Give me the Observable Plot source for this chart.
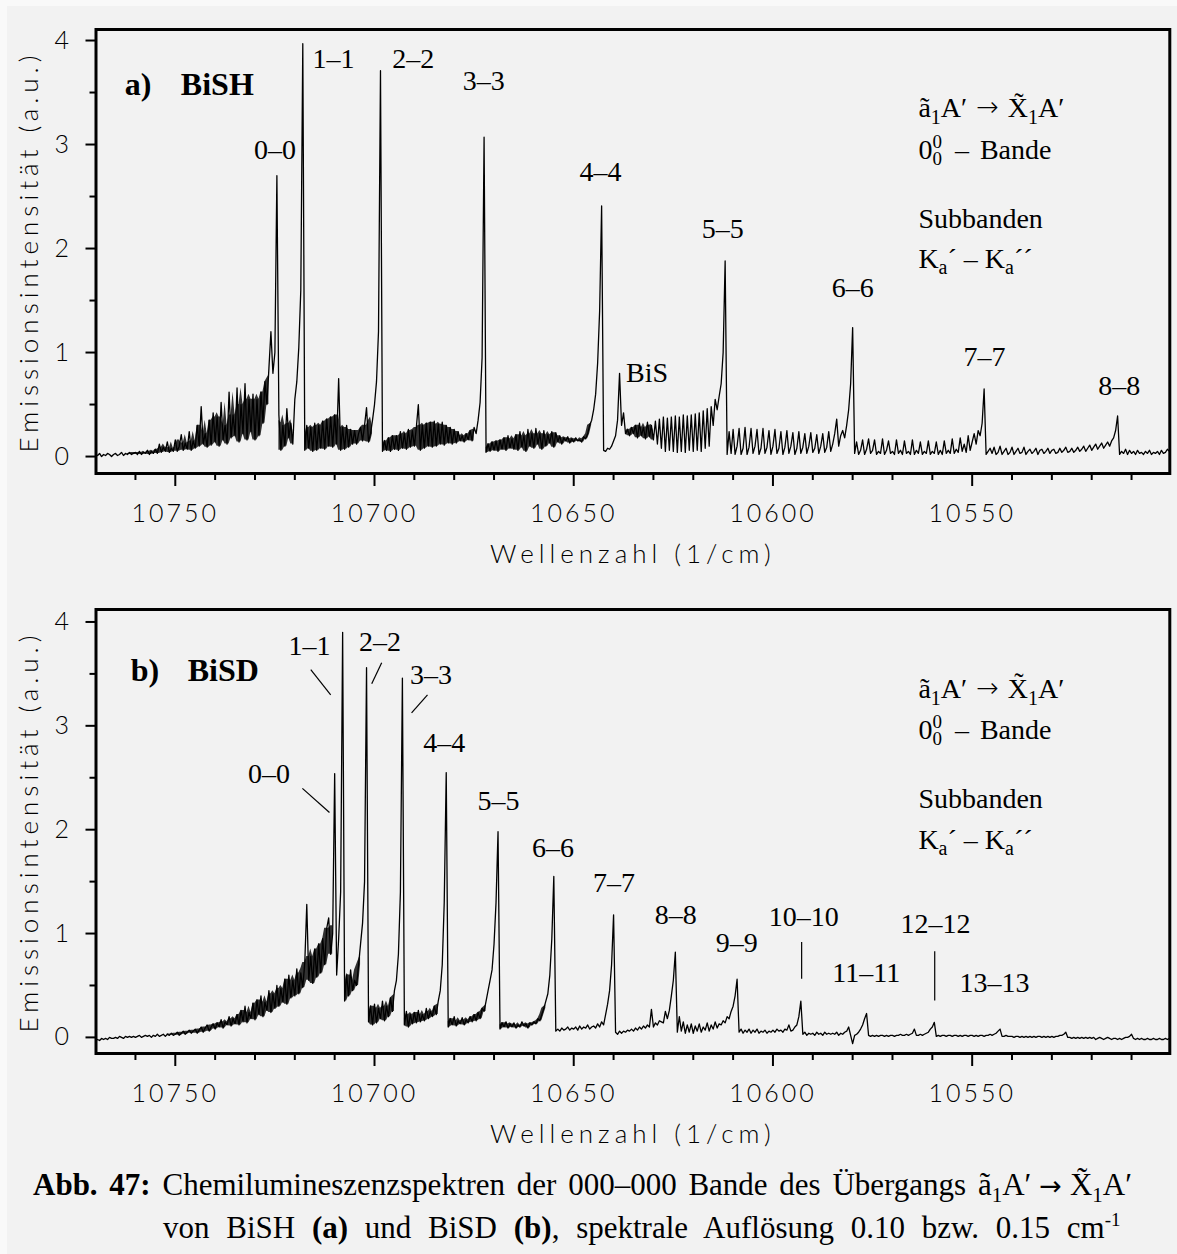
<!DOCTYPE html>
<html><head><meta charset="utf-8">
<script src="https://cdn.jsdelivr.net/npm/d3@7"></script>
<script src="https://cdn.jsdelivr.net/npm/@observablehq/plot@0.6"></script>
<style>
html,body{margin:0;padding:0;background:#f9f9f9;}
#page{position:relative;width:1177px;height:1254px;background:#f9f9f9;overflow:hidden;}
#inner{position:absolute;left:7px;top:6px;right:0;bottom:0;background:#f2f2f2;}
#page svg{position:absolute;left:0;overflow:visible;}
g[aria-label="x-axis tick label"] text{letter-spacing:3px;}
</style></head>
<body><div id="page"><div id="inner"></div></div>
<script>
// ---------- data ----------
const wnStart = 10770, wnStep = 0.5;   // wavenumber grid (1/cm), descending
// BiSH emission intensity (a.u.), one value per grid point
const bishIntensity = [
0.02,0.01,0.03,0.00,0.02,0.01,0.03,0.02,0.00,0.02,
0.03,0.01,0.02,0.04,0.01,0.03,0.02,0.04,0.02,0.03,
0.04,0.02,0.05,0.02,0.04,0.03,0.06,0.02,0.05,0.03,
0.07,0.03,0.12,0.04,0.09,0.05,0.14,0.04,0.08,0.05,
0.16,0.05,0.10,0.21,0.06,0.13,0.07,0.24,0.06,0.15,
0.08,0.30,0.10,0.48,0.12,0.22,0.09,0.35,0.11,0.42,
0.14,0.38,0.10,0.52,0.16,0.30,0.12,0.62,0.18,0.40,
0.20,0.66,0.14,0.50,0.22,0.70,0.16,0.55,0.24,0.60,
0.16,0.55,0.20,0.62,0.32,0.72,0.50,0.85,1.20,0.80,
1.00,2.70,0.40,0.06,0.30,0.10,0.46,0.18,0.32,0.12,
0.55,0.72,1.05,1.60,3.97,0.06,0.30,0.08,0.28,0.05,
0.32,0.06,0.30,0.08,0.34,0.07,0.36,0.10,0.38,0.09,
0.40,0.12,0.75,0.06,0.28,0.07,0.30,0.09,0.26,0.12,
0.25,0.12,0.22,0.28,0.15,0.30,0.47,0.14,0.22,0.35,
0.50,0.72,1.20,3.71,0.05,0.15,0.06,0.18,0.05,0.20,
0.07,0.20,0.06,0.24,0.08,0.22,0.07,0.26,0.09,0.25,
0.10,0.28,0.50,0.06,0.30,0.08,0.32,0.10,0.33,0.09,
0.34,0.10,0.31,0.12,0.33,0.11,0.30,0.13,0.28,0.12,
0.26,0.13,0.24,0.15,0.20,0.14,0.22,0.16,0.25,0.15,
0.28,0.22,0.35,0.52,0.95,3.07,0.04,0.12,0.05,0.14,
0.06,0.15,0.05,0.16,0.07,0.18,0.06,0.20,0.08,0.17,
0.07,0.21,0.06,0.24,0.09,0.20,0.05,0.26,0.10,0.22,
0.08,0.27,0.12,0.22,0.07,0.25,0.10,0.21,0.13,0.24,
0.09,0.23,0.14,0.20,0.12,0.18,0.15,0.19,0.13,0.17,
0.14,0.18,0.15,0.16,0.14,0.19,0.17,0.22,0.30,0.35,
0.45,0.60,0.90,1.40,2.41,0.06,0.05,0.08,0.07,0.10,
0.15,0.20,0.35,0.80,0.30,0.42,0.22,0.26,0.20,0.28,
0.22,0.30,0.18,0.32,0.20,0.28,0.17,0.33,0.19,0.30,
0.16,0.34,0.12,0.36,0.08,0.38,0.05,0.37,0.06,0.38,
0.05,0.39,0.04,0.38,0.05,0.40,0.04,0.39,0.06,0.40,
0.05,0.41,0.06,0.42,0.05,0.44,0.08,0.46,0.10,0.48,
0.30,0.55,0.45,0.58,0.70,1.00,1.88,0.02,0.24,0.03,
0.26,0.02,0.10,0.27,0.02,0.08,0.28,0.02,0.09,0.27,
0.03,0.10,0.26,0.02,0.08,0.27,0.03,0.09,0.25,0.02,
0.10,0.26,0.03,0.08,0.24,0.02,0.09,0.25,0.03,0.10,
0.23,0.02,0.08,0.24,0.03,0.09,0.22,0.03,0.10,0.23,
0.04,0.08,0.21,0.03,0.10,0.22,0.04,0.09,0.24,0.05,
0.12,0.22,0.36,0.10,0.20,0.25,0.18,0.30,0.45,0.70,
1.24,0.03,0.14,0.02,0.06,0.16,0.02,0.07,0.17,0.03,
0.06,0.16,0.02,0.05,0.03,0.17,0.02,0.06,0.15,0.03,
0.05,0.02,0.16,0.03,0.06,0.02,0.15,0.03,0.05,0.02,
0.16,0.02,0.06,0.03,0.14,0.02,0.05,0.03,0.15,0.02,
0.05,0.03,0.14,0.02,0.06,0.02,0.15,0.03,0.06,0.03,
0.17,0.03,0.07,0.04,0.18,0.05,0.12,0.04,0.20,0.06,
0.14,0.22,0.12,0.25,0.20,0.32,0.65,0.02,0.05,0.08,
0.03,0.09,0.02,0.04,0.10,0.02,0.05,0.08,0.02,0.04,
0.09,0.02,0.05,0.08,0.03,0.04,0.09,0.02,0.05,0.07,
0.03,0.05,0.08,0.02,0.06,0.07,0.03,0.05,0.08,0.03,
0.06,0.07,0.03,0.04,0.08,0.04,0.06,0.09,0.04,0.05,
0.08,0.04,0.06,0.09,0.05,0.07,0.10,0.05,0.08,0.11,
0.06,0.09,0.12,0.07,0.10,0.13,0.08,0.11,0.14,0.10,
0.15,0.18,0.25,0.39,0.02,0.05,0.03,0.07,0.02,0.06,
0.03,0.05,0.02,0.06,0.03,0.04,0.02,0.05,0.03,0.06,
0.02,0.04,0.03,0.05,0.02,0.06,0.03,0.04,0.07,0.05,0.06
];
// BiSD emission intensity (a.u.), same grid
const bisdIntensity = [
-0.03,-0.02,-0.03,-0.01,-0.02,-0.01,-0.02,0.00,-0.01,-0.01,
0.00,-0.01,0.01,0.00,-0.01,0.01,0.00,0.01,0.00,0.01,
0.00,0.01,0.02,0.00,0.01,0.02,0.01,0.02,0.00,0.02,
0.01,0.03,0.01,0.02,0.03,0.01,0.03,0.02,0.04,0.02,
0.03,0.05,0.02,0.04,0.06,0.03,0.05,0.07,0.04,0.06,
0.08,0.04,0.07,0.10,0.05,0.09,0.12,0.06,0.10,0.13,
0.08,0.14,0.10,0.17,0.09,0.15,0.12,0.20,0.11,0.18,
0.13,0.22,0.12,0.26,0.15,0.30,0.14,0.24,0.18,0.33,
0.17,0.36,0.22,0.40,0.20,0.34,0.26,0.45,0.24,0.42,
0.28,0.50,0.30,0.47,0.34,0.56,0.32,0.60,0.38,0.55,
0.40,0.66,0.42,0.62,0.48,0.72,1.28,0.55,0.78,0.52,
0.85,0.58,0.90,0.62,0.95,0.70,1.05,1.15,0.80,1.00,
2.54,0.60,0.95,1.40,3.90,0.35,0.60,0.40,0.65,0.45,
0.55,0.50,0.70,0.90,1.10,1.50,3.56,0.15,0.30,0.12,
0.32,0.14,0.28,0.18,0.35,0.16,0.30,0.20,0.38,0.25,
0.45,0.55,0.80,1.40,3.46,0.12,0.25,0.10,0.22,0.13,
0.24,0.14,0.26,0.15,0.22,0.16,0.28,0.18,0.25,0.20,
0.30,0.22,0.35,0.45,0.70,1.30,2.55,0.10,0.18,0.12,
0.20,0.11,0.16,0.13,0.19,0.12,0.17,0.14,0.20,0.15,
0.22,0.16,0.24,0.18,0.28,0.25,0.35,0.45,0.55,0.65,
0.90,1.30,1.98,0.08,0.14,0.10,0.15,0.09,0.13,0.10,
0.14,0.09,0.12,0.10,0.15,0.11,0.13,0.09,0.14,0.12,
0.15,0.13,0.18,0.16,0.22,0.28,0.35,0.42,0.60,0.95,
1.55,0.06,0.08,0.06,0.09,0.07,0.08,0.10,0.07,0.09,
0.08,0.10,0.07,0.11,0.08,0.10,0.09,0.12,0.08,0.10,
0.11,0.09,0.13,0.10,0.15,0.12,0.22,0.32,0.45,0.70,
1.18,0.05,0.03,0.06,0.04,0.06,0.05,0.07,0.06,0.08,
0.06,0.09,0.07,0.10,0.08,0.11,0.09,0.12,0.10,0.27,
0.10,0.14,0.12,0.16,0.15,0.14,0.25,0.18,0.26,0.40,
0.55,0.82,0.05,0.20,0.06,0.15,0.04,0.12,0.05,0.13,
0.04,0.11,0.06,0.13,0.05,0.10,0.07,0.14,0.06,0.12,
0.08,0.15,0.09,0.13,0.12,0.16,0.14,0.20,0.18,0.25,
0.30,0.40,0.56,0.05,0.08,0.04,0.07,0.05,0.08,0.04,
0.07,0.05,0.08,0.04,0.06,0.05,0.07,0.04,0.06,0.05,
0.07,0.05,0.08,0.06,0.07,0.05,0.08,0.07,0.12,0.06,
0.07,0.10,0.12,0.20,0.35,0.03,0.05,0.02,0.04,0.03,
0.04,0.02,0.05,0.03,0.04,0.02,0.05,0.03,0.04,0.03,
0.04,0.03,0.05,0.02,0.04,0.03,0.05,0.06,0.10,0.02,
-0.06,0.02,0.03,0.05,0.08,0.12,0.18,0.23,0.02,0.01,
0.02,0.01,0.02,0.01,0.02,0.02,0.01,0.02,0.01,0.02,
0.02,0.01,0.02,0.02,0.03,0.02,0.02,0.03,0.02,0.03,
0.04,0.08,0.02,0.02,0.03,0.02,0.03,0.04,0.05,0.08,
0.10,0.145,0.01,0.02,0.01,0.02,0.02,0.01,0.02,0.02,
0.01,0.02,0.02,0.01,0.02,0.01,0.02,0.02,0.01,0.02,
0.02,0.01,0.02,0.01,0.02,0.02,0.01,0.02,0.02,0.03,
0.02,0.03,0.04,0.06,0.08,0.01,0.01,0.02,0.01,0.01,
0.01,0.00,0.01,0.01,0.00,0.01,0.00,0.01,0.00,0.01,
0.00,0.01,0.00,0.01,0.01,0.00,0.01,0.00,0.01,0.00,
0.01,0.00,0.01,0.01,0.02,0.02,0.03,0.05,0.00,0.00,
-0.01,0.00,-0.01,0.00,-0.01,0.00,-0.01,0.00,-0.01,0.00,
-0.01,0.00,-0.02,-0.01,0.00,-0.01,-0.02,-0.01,0.00,-0.01,
-0.02,-0.01,-0.01,-0.02,-0.01,-0.02,-0.01,0.00,0.00,0.01,
0.03,-0.01,-0.02,-0.01,-0.02,-0.01,-0.02,-0.02,-0.01,-0.02,
-0.02,-0.01,-0.02,-0.02,-0.01,-0.02,-0.02,-0.01,-0.02,-0.01,-0.02
];
// wavenumber ranges where the rotational lines are unresolved (dense band)
const bishDenseRanges = [[10762,10726.5],[10724,10720.5],[10717.5,10700.5],[10698,10675],[10672,10645.5],[10637,10630]];
const bisdDenseRanges = [[10752,10710.5],[10707.5,10703.5],[10701.5,10695],[10692.5,10684],[10681.5,10672],[10668.5,10657]];
// axis ticks
const xMajorTicks = [10750, 10700, 10650, 10600, 10550];
const xMinorTicks = [10760,10740,10730,10720,10710,10690,10680,10670,10660,10640,10630,10620,10610,10590,10580,10570,10560,10540,10530,10520,10510];
const yMajorTicks = [0, 1, 2, 3, 4];
const yMinorTicks = [0.5, 1.5, 2.5, 3.5];
const xTitle = "Wellenzahl (1/cm)";
const yTitle = "Emissionsintensität (a.u.)";
// band labels (text, wavenumber, intensity of label baseline)
const bishLabelText = ["0–0","1–1","2–2","3–3","4–4","5–5","6–6","7–7","8–8","BiS"];
const bishLabelWn   = [10724.95,10710.3,10690.3,10672.6,10643.3,10612.6,10580.0,10546.9,10513.1,10631.6];
const bishLabelY    = [2.865,3.74,3.74,3.52,2.65,2.10,1.53,0.875,0.596,0.715];
const bisdLabelText = ["0–0","1–1","2–2","3–3","4–4","5–5","6–6","7–7","8–8","9–9","10–10","11–11","12–12","13–13"];
const bisdLabelWn   = [10726.5,10716.3,10698.6,10685.8,10682.5,10668.9,10655.2,10639.9,10624.4,10609.1,10592.3,10576.6,10559.2,10544.4];
const bisdLabelY    = [2.447,3.685,3.723,3.404,2.747,2.186,1.74,1.402,1.096,0.822,1.073,0.532,1.009,0.435];
// leader lines in panel b (from wn1,y1 to wn2,y2)
const bisdLeadWn1 = [10718.1,10716.0,10698.2,10686.7,10592.8,10559.4];
const bisdLeadY1  = [2.398,3.540,3.607,3.298,0.919,0.829];
const bisdLeadWn2 = [10711.3,10711.0,10700.7,10690.7,10592.8,10559.4];
const bisdLeadY2  = [2.166,3.298,3.404,3.124,0.564,0.355];
// panel titles
const panelTag = ["a)", "b)"];
const panelMolecule = ["BiSH", "BiSD"];
// right-hand text block
const blockText = ["ã1A′ → X̃1A′", "00 – Bande", "Subbanden", "Ka´ – Ka´´"];
const blockYa = [3.26, 2.865, 2.20, 1.817];
const blockYb = [3.269, 2.872, 2.205, 1.818];
const blockWn = 10563.5;

// ---------- rendering ----------
const sans = "Lato, 'DejaVu Sans', sans-serif";
const serif = "'Liberation Serif', 'Times New Roman', serif";
const rich = {
  "ã1A′ → X̃1A′": 'ã<tspan dy="7" font-size="20">1</tspan><tspan dy="-7">A′</tspan><tspan dx="9" font-family="DejaVu Sans" font-size="27" dy="-1">→</tspan><tspan dx="9" dy="1">X̃</tspan><tspan dy="7" font-size="20">1</tspan><tspan dy="-7">A′</tspan>',
  "00 – Bande": '0<tspan dy="-11" font-size="19">0</tspan><tspan dx="-9.5" dy="17" font-size="19">0</tspan><tspan dy="-6" dx="6"> – </tspan><tspan dx="4">Bande</tspan>',
  "Ka´ – Ka´´": 'K<tspan dy="6" font-size="20">a</tspan><tspan dy="-6">´ – K</tspan><tspan dy="6" font-size="20">a</tspan><tspan dy="-6">´´</tspan>'
};

// core of the unresolved band: from the local minimum to the local upper quartile of the measured values
function denseBand(intens, ranges) {
  const out = [];
  ranges.forEach(([a, b], r) => {
    const i0 = Math.round((wnStart - a) / wnStep), i1 = Math.round((wnStart - b) / wnStep);
    for (let i = i0; i <= i1; i++) {
      const w3 = intens.slice(Math.max(i0, i - 1), Math.min(i1, i + 1) + 1);
      const w5 = intens.slice(Math.max(i0, i - 2), Math.min(i1, i + 2) + 1);
      const lo = d3.min(w3);
      out.push({wn: wnStart - i * wnStep, lo, hi: Math.max(lo, d3.quantile(w5, 0.75)), r});
    }
  });
  return out;
}

function panel(intens, dense, yDomain, labels, tagIdx, blockY, leads, top) {
  const data = intens.map((v, i) => ({wn: wnStart - i * wnStep, v}));
  const tags = [{t: panelTag[tagIdx], wn: tagIdx ? 10761.2 : 10762.7}, {t: panelMolecule[tagIdx], wn: tagIdx ? 10746.9 : 10748.6}];
  const tagY = tagIdx ? 3.433 : 3.48;
  const block = blockText.map((t, i) => ({t, y: blockY[i]}));
  const marks = [
    Plot.axisX(xMajorTicks, {tickSize: 13, tickPadding: 18, strokeWidth: 2, fontSize: 25, label: null, tickFormat: d => String(d)}),
    Plot.axisX(xMinorTicks, {tickSize: 7, strokeWidth: 2, label: null, tickFormat: () => ""}),
    Plot.axisY(yMajorTicks, {tickSize: 10, tickPadding: 17, strokeWidth: 2, fontSize: 25, label: null, tickFormat: d => String(d)}),
    Plot.axisY(yMinorTicks, {tickSize: 6, strokeWidth: 2, label: null, tickFormat: () => ""}),
    Plot.areaY(denseBand(intens, dense), {x: "wn", y1: "lo", y2: "hi", z: "r", fill: "black", fillOpacity: 0.8, clip: true}),
    Plot.line(data, {x: "wn", y: "v", stroke: "black", strokeWidth: 1.3, clip: true}),
    Plot.frame({stroke: "black", strokeWidth: 3}),
    Plot.text([xTitle], {frameAnchor: "bottom", dy: 89, lineAnchor: "bottom", textAnchor: "middle", fontSize: 26, fontFamily: sans, text: d => d}),
    Plot.text([yTitle], {frameAnchor: "left", dx: -58.5, rotate: -90, lineAnchor: "bottom", textAnchor: "middle", fontSize: 26, fontFamily: sans, text: d => d}),
    Plot.text(labels, {x: "wn", y: "y", text: "t", fontFamily: serif, fontSize: 28, lineAnchor: "bottom", textAnchor: "middle"}),
    Plot.text(tags, {x: "wn", y: () => tagY, text: "t", fontFamily: serif, fontSize: 32, fontWeight: "bold", lineAnchor: "bottom", textAnchor: "start"}),
    Plot.text(block, {x: () => blockWn, y: "y", text: "t", fontFamily: serif, fontSize: 28, lineAnchor: "bottom", textAnchor: "start"})
  ];
  if (leads) marks.push(Plot.link(leads, {x1: "x1", y1: "y1", x2: "x2", y2: "y2", stroke: "black", strokeWidth: 1.2}));
  const svg = Plot.plot({
    width: 1177, height: 575,
    marginLeft: 95.5, marginRight: 7.7, marginTop: 29, marginBottom: 575 - 29 - 444,
    x: {domain: [10769.9, 10500.4]},
    y: {domain: yDomain},
    style: {background: "transparent", color: "black", fontFamily: sans, fontSize: "25px", fontWeight: 300},
    marks
  });
  svg.style.top = top + "px";
  svg.querySelectorAll("text").forEach(t => {
    const k = t.textContent;
    if (rich[k]) t.innerHTML = rich[k];
    if (k === xTitle || k === yTitle) t.style.letterSpacing = "5px";
  });
  return svg;
}

const page = document.getElementById("page");
const labelsA = bishLabelText.map((t, i) => ({t, wn: bishLabelWn[i], y: bishLabelY[i]}));
const labelsB = bisdLabelText.map((t, i) => ({t, wn: bisdLabelWn[i], y: bisdLabelY[i]}));
const leadsB = bisdLeadWn1.map((w, i) => ({x1: w, y1: bisdLeadY1[i], x2: bisdLeadWn2[i], y2: bisdLeadY2[i]}));
page.appendChild(panel(bishIntensity, bishDenseRanges, [-0.163, 4.106], labelsA, 0, blockYa, null, 0));
page.appendChild(panel(bisdIntensity, bisdDenseRanges, [-0.155, 4.12], labelsB, 1, blockYb, leadsB, 580));

// caption
const cap = document.createElementNS("http://www.w3.org/2000/svg", "svg");
cap.setAttribute("width", 1177); cap.setAttribute("height", 114);
cap.style.top = "1140px";
cap.innerHTML =
 '<g font-family="Liberation Serif, Times New Roman, serif" font-size="31" fill="black">' +
 '<text x="33" y="55" style="word-spacing:4px"><tspan font-weight="bold">Abb. 47:</tspan> Chemilumineszenzspektren der 000–000 Bande des Übergangs  ã<tspan dy="7" font-size="21">1</tspan><tspan dy="-7">A′</tspan><tspan dx="8" font-family="DejaVu Sans" font-size="27">→</tspan><tspan dx="8">X̃</tspan><tspan dy="7" font-size="21">1</tspan><tspan dy="-7">A′</tspan></text>' +
 '<text x="163" y="98" style="word-spacing:9px">von BiSH <tspan font-weight="bold">(a)</tspan> und BiSD <tspan font-weight="bold">(b)</tspan>, spektrale Auflösung 0.10 bzw. 0.15 cm<tspan dy="-12" font-size="19">-1</tspan></text>' +
 '</g>';
page.appendChild(cap);
</script>
</body></html>
